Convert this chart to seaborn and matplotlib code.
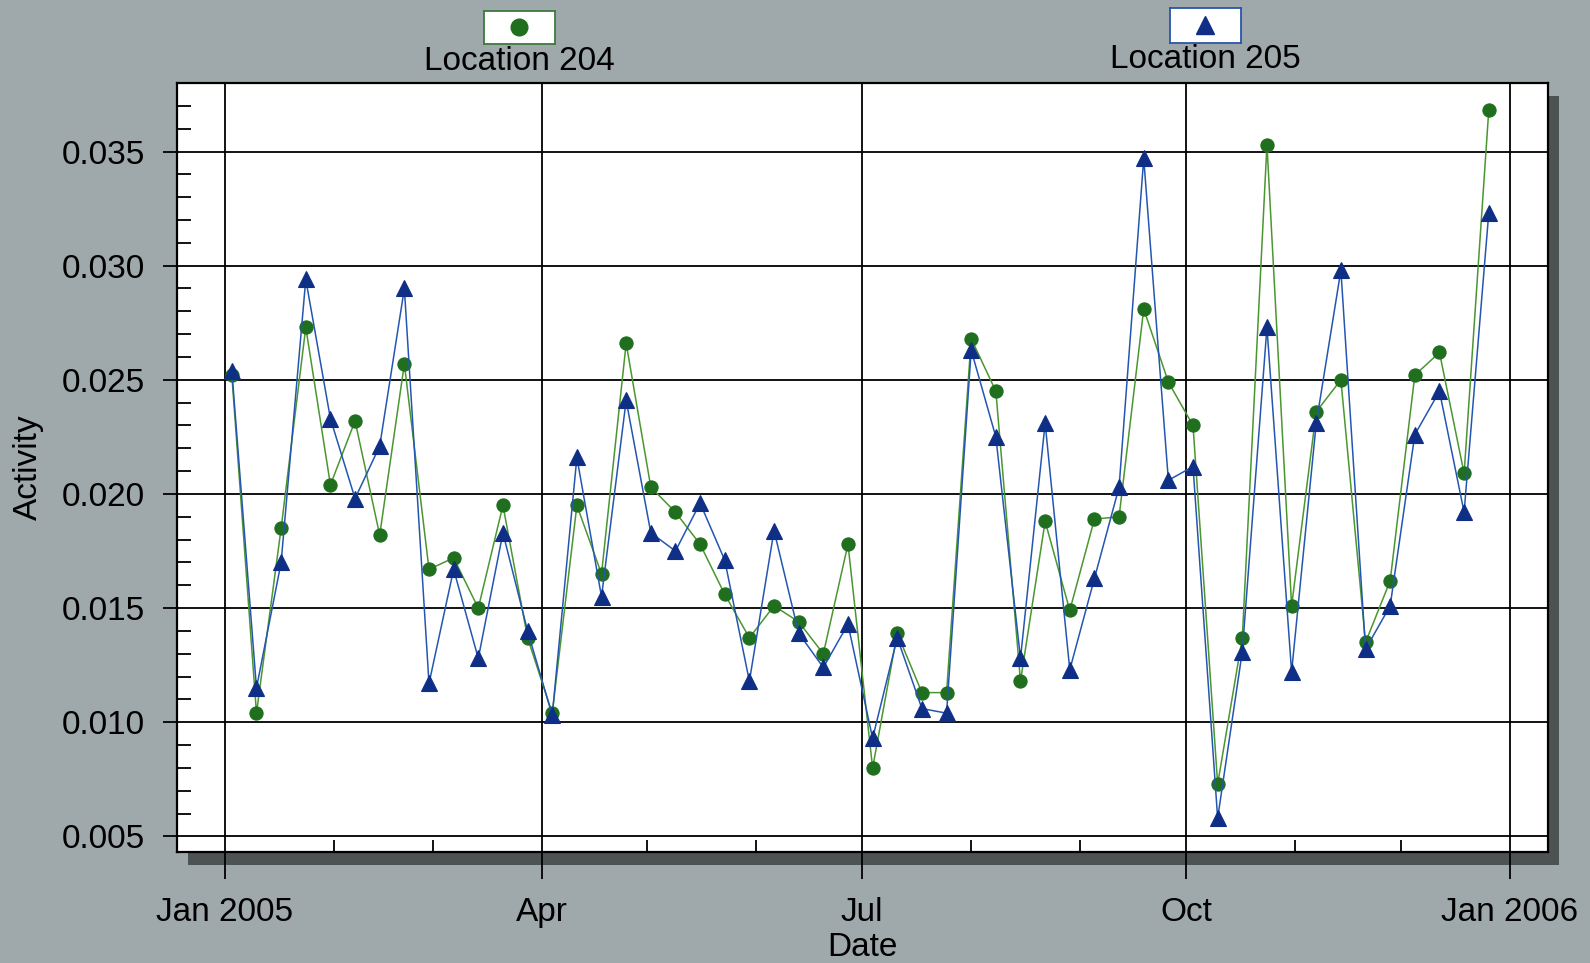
import numpy as np
import pandas as pd
import matplotlib
matplotlib.use("Agg")
import matplotlib.pyplot as plt
import matplotlib.dates as mdates
from matplotlib.patches import Rectangle
import seaborn as sns

# Weekly sampling dates (Mondays through 2005)
dates = pd.date_range("2005-01-03", periods=52, freq="7D")

location_204 = [
    0.0252, 0.0104, 0.0185, 0.0273, 0.0204, 0.0232, 0.0182, 0.0257, 0.0167, 0.0172,
    0.0150, 0.0195, 0.0137, 0.0104, 0.0195, 0.0165, 0.0266, 0.0203, 0.0192, 0.0178,
    0.0156, 0.0137, 0.0151, 0.0144, 0.0130, 0.0178, 0.0080, 0.0139, 0.0113, 0.0113,
    0.0268, 0.0245, 0.0118, 0.0188, 0.0149, 0.0189, 0.0190, 0.0281, 0.0249, 0.0230,
    0.0073, 0.0137, 0.0353, 0.0151, 0.0236, 0.0250, 0.0135, 0.0162, 0.0252, 0.0262,
    0.0209, 0.0368,
]
location_205 = [
    0.0254, 0.0115, 0.0170, 0.0294, 0.0233, 0.0198, 0.0221, 0.0290, 0.0117, 0.0167,
    0.0128, 0.0183, 0.0140, 0.0103, 0.0216, 0.0155, 0.0241, 0.0183, 0.0175, 0.0196,
    0.0171, 0.0118, 0.0184, 0.0139, 0.0124, 0.0143, 0.0093, 0.0137, 0.0106, 0.0104,
    0.0263, 0.0225, 0.0128, 0.0231, 0.0123, 0.0163, 0.0203, 0.0347, 0.0206, 0.0212,
    0.0058, 0.0131, 0.0273, 0.0122, 0.0231, 0.0298, 0.0132, 0.0151, 0.0226, 0.0245,
    0.0192, 0.0323,
]
series_names = ["Location 204", "Location 205"]

major_tick_dates = ["2005-01-01", "2005-04-01", "2005-07-01", "2005-10-01", "2006-01-01"]
major_tick_labels = ["Jan 2005", "Apr", "Jul", "Oct", "Jan 2006"]
y_major = [0.005, 0.010, 0.015, 0.020, 0.025, 0.030, 0.035]

sns.set_theme(style="white")
plt.rcParams["font.family"] = ["Liberation Sans", "DejaVu Sans"]

BG = "#9fa9ab"
GREEN_LINE = "#4a9630"
GREEN_MARK = "#1f6f1f"
BLUE_LINE = "#2456b0"
BLUE_MARK = "#0f2f86"
FS = 24

fig = plt.figure(figsize=(15.9, 9.63), dpi=100, facecolor=BG)
ax_rect = [0.1113, 0.1153, 0.8623, 0.7985]
ax = fig.add_axes(ax_rect)
ax.set_zorder(2)
ax.set_facecolor("white")

# drop shadow behind the plotting area
W, H = 1590, 963
dx, dy = 11 / W, 13 / H
shadow = Rectangle((ax_rect[0] + dx, ax_rect[1] - dy), ax_rect[2], ax_rect[3],
                   transform=fig.transFigure, facecolor="#4d5252",
                   edgecolor="none", zorder=-1)
fig.patches.append(shadow)

df = pd.DataFrame({"Date": dates, series_names[0]: location_204, series_names[1]: location_205})

sns.lineplot(data=df, x="Date", y=series_names[0], ax=ax, color=GREEN_LINE, lw=1.1,
             marker="o", markersize=9.5, markerfacecolor=GREEN_MARK,
             markeredgecolor=GREEN_MARK, markeredgewidth=0.8, zorder=4)
sns.lineplot(data=df, x="Date", y=series_names[1], ax=ax, color=BLUE_LINE, lw=1.1,
             marker="^", markersize=11, markerfacecolor=BLUE_MARK,
             markeredgecolor=BLUE_MARK, markeredgewidth=0.8, zorder=5)

# axes limits
ax.set_xlim(pd.Timestamp("2004-12-18 10:00"), pd.Timestamp("2006-01-11 20:00"))
ax.set_ylim(0.00432, 0.0380)

# x ticks: quarters as major (with grid), remaining months as inward minor ticks
ax.set_xticks([pd.Timestamp(d) for d in major_tick_dates])
ax.set_xticklabels(major_tick_labels)
ax.xaxis.set_minor_locator(mdates.MonthLocator(bymonth=[2, 3, 5, 6, 8, 9, 11, 12]))
ax.set_yticks(y_major)
ax.set_yticklabels([f"{v:.3f}" for v in y_major])
ax.yaxis.set_minor_locator(matplotlib.ticker.MultipleLocator(0.001))

ax.grid(True, which="major", color="black", lw=1.3, zorder=1)
ax.set_axisbelow(True)
ax.tick_params(axis="x", which="major", direction="out", length=19.5, width=1.3,
               color="black", pad=13, labelsize=FS, labelcolor="black", bottom=True)
ax.tick_params(axis="y", which="major", direction="out", length=10, width=1.3,
               color="black", pad=13, labelsize=FS, labelcolor="black", left=True)
ax.tick_params(axis="x", which="minor", direction="in", length=9, width=1.3,
               color="black", bottom=True)
ax.tick_params(axis="y", which="minor", direction="in", length=10, width=1.3,
               color="black", left=True)

for s in ax.spines.values():
    s.set_visible(True)
    s.set_color("black")
    s.set_linewidth(1.6)

ax.set_xlabel("Date", fontsize=FS, color="black", labelpad=3)
ax.set_ylabel("Activity", fontsize=FS, color="black", labelpad=13)

# series keys along the top edge
def key_box(cx, top_px, bottom_px, marker, mcolor, ecolor, msize, label, text_y_px):
    bw = 71 / W
    ax_k = fig.add_axes([cx / W - bw / 2, 1 - bottom_px / H, bw, (bottom_px - top_px) / H])
    ax_k.set_facecolor("white")
    ax_k.set_xlim(-1, 1)
    ax_k.set_ylim(-1, 1)
    ax_k.plot([0], [0], marker=marker, markersize=msize, color=mcolor, ls="none")
    ax_k.set_xticks([])
    ax_k.set_yticks([])
    for s in ax_k.spines.values():
        s.set_visible(True)
        s.set_color(ecolor)
        s.set_linewidth(1.3)
    fig.text(cx / W, 1 - text_y_px / H, label, ha="center", va="center",
             fontsize=FS, color="black")

key_box(519, 11, 44, "o", GREEN_MARK, "#3c7a3c", 12, series_names[0], 61)
key_box(1205, 8, 43, "^", BLUE_MARK, "#2a55a8", 13, series_names[1], 60)

fig.savefig("out.png", dpi=100, facecolor=BG)
